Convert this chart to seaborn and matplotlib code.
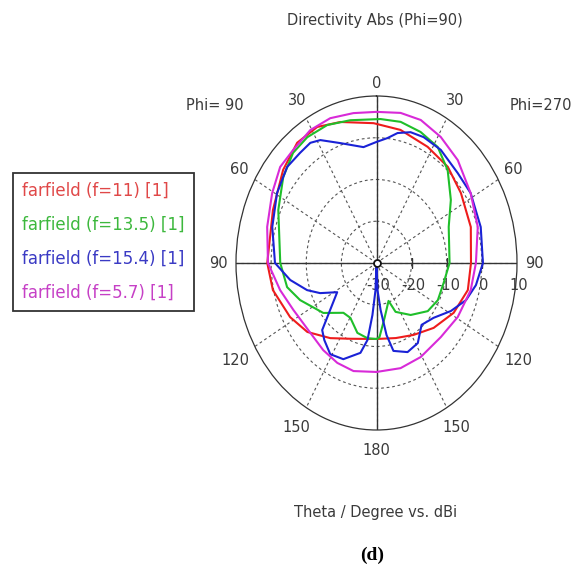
import numpy as np
import pandas as pd
import matplotlib
matplotlib.use('Agg')
import matplotlib.pyplot as plt
import seaborn as sns

sns.set_theme(style='white')
plt.rcParams['font.family'] = ['DejaVu Sans']

# theta in degrees: negative side = Phi=90 cut (left half), positive = Phi=270 cut (right half)
theta_f11 = [-180, -157.8, -143.8, -130, -117.8, -102.4, -90, -66.7, -50, -38.1, -27.4, -16.9, -1.4,
             12.1, 27.6, 41.4, 55.1, 72.2, 90, 104, 118.5, 133.7, 148.5, 163, 180]
dbi_f11 = [-11.8, -10.4, -7.7, -4.3, -2.2, 0.2, 1.1, 2.1, 4.7, 6.6, 6.7, 5.3, 3.5,
           2.6, 1.4, 0.7, -0.7, -1.8, -3.1, -3.2, -5.0, -7.5, -9.8, -11.2, -11.8]

theta_f135 = [-180, -171.9, -162, -150.5, -141.7, -128.3, -112.2, -102.8, -90, -65.6, -52.2, -42, -33.2,
              -23, -12.3, 1.9, 11.5, 21.8, 32.1, 42.3, 54.5, 67.2, 90, 104, 117, 128.3, 142, 155.1,
              159.3, 170.2, 177.3, 180]
dbi_f135 = [-11.8, -11.8, -12.4, -14.9, -14.8, -10.7, -6.5, -3.9, -2.6, 0.7, 3.6, 5.5, 6.0,
            5.9, 5.0, 4.5, 4.5, 3.8, 2.8, 0.1, -4.0, -7.7, -9.2, -10.3, -10.4, -11.4, -14.2, -17.1,
            -20.3, -16.6, -12.2, -11.8]

theta_f154 = [-180, -177.5, -174.7, -172.1, -168, -157.7, -148.9, -141.2, -136.1, -122, -114.2, -108.2,
              -99.4, -90, -73.8, -59.4, -47.9, -39.5, -33.2, -28.5, -19.7, -7.6, 0, 6, 10.9, 17.2, 24,
              34, 47.1, 58, 73.8, 90, 100.6, 109.2, 118.5, 128.9, 139.1, 148.5, 157.5, 167.1, 170.6,
              174.1, 177.5, 180]
dbi_f154 = [-30, -23.5, -17.5, -11.4, -8.0, -5.1, -4.5, -6.3, -7.7, -16.8, -12.4, -9.2,
            -5.1, -1.1, 0.9, 2.9, 4.3, 4.2, 4.4, 3.5, 0.5, -2.0, -1.0, 0.1, 1.7, 2.8, 3.0,
            2.7, 1.6, 1.6, 0.9, 0.3, -1.2, -3.0, -5.9, -9.1, -10.4, -7.5, -6.9, -8.4, -12.5,
            -18.7, -23.5, -30]

theta_f57 = [-180, -165.8, -155, -144, -130.4, -115.4, -103.3, -90, -74.5, -60.6, -50, -41.2, -30.6,
             -20.8, -10.4, 0, 10.8, 20.2, 31.2, 43.2, 58, 73.3, 90, 103.6, 119.2, 134.1, 150.8,
             164.8, 180]
dbi_f57 = [-3.9, -3.3, -3.6, -4.2, -4.8, -3.8, -1.8, 0.9, 2.3, 4.1, 5.8, 6.0, 7.0,
           7.1, 6.5, 6.2, 6.6, 6.5, 5.3, 3.8, 1.6, 0.1, -1.7, -2.4, -3.5, -4.5, -4.2,
           -3.9, -3.9]

labels = ['farfield (f=11) [1]', 'farfield (f=13.5) [1]', 'farfield (f=15.4) [1]', 'farfield (f=5.7) [1]']
line_colors = ['#ee1c1c', '#1fbf2a', '#1a22d6', '#d82ad8']
text_colors = ['#e04848', '#3db83d', '#3a3ac4', '#c640c6']

r_ticks = [-30, -20, -10, 0, 10]
theta_ticks = [0, 30, 60, 90, 120, 150, 180, 210, 240, 270, 300, 330]
theta_ticklabels = ['0', '30', '60', '90', '120', '150', '180', '150', '120', '90', '60', '30']
# how far outside the plot each angle label sits (in dB units)
label_r = [13, 15, 15, 15, 16.5, 15.5, 15, 15.5, 16.5, 15, 15, 15]

txt = '#3a3a3a'
W, H = 573, 588

fig = plt.figure(figsize=(W / 100, H / 100), dpi=100)
fig.patch.set_facecolor('white')
ax = fig.add_axes([236 / W, 1 - 430 / H, 281 / W, 334 / H], projection='polar')

series = [(theta_f11, dbi_f11), (theta_f135, dbi_f135), (theta_f154, dbi_f154), (theta_f57, dbi_f57)]
for (th, db), lab, c in zip(series, labels, line_colors):
    df = pd.DataFrame({'theta': np.deg2rad(th), 'dbi': db})
    sns.lineplot(data=df, x='theta', y='dbi', ax=ax, sort=False, estimator=None,
                 color=c, lw=1.5, label=lab, zorder=4)

ax.set_aspect('auto')
ax.set_theta_zero_location('N')
ax.set_theta_direction(-1)
ax.set_xlim(0, 2 * np.pi)
ax.set_rlim(-30, 10)
ax.set_rticks(r_ticks[1:-1])
ax.set_yticklabels([])
ax.set_thetagrids(theta_ticks, labels=[''] * len(theta_ticks))
ax.set_xlabel('')
ax.set_ylabel('')
ax.grid(True, color='#555555', linestyle=(0, (2.5, 2.5)), linewidth=0.8)
ax.spines['polar'].set_color('#333333')
ax.spines['polar'].set_linewidth(0.9)
ax.set_facecolor('white')

# solid cross through the centre
ax.plot([0, 1], [0.5, 0.5], transform=ax.transAxes, color='#333333', lw=1.0, zorder=3)
ax.plot([0.5, 0.5], [0, 1], transform=ax.transAxes, color='#333333', lw=1.0, zorder=3)
ax.plot(np.deg2rad([90] * 3), r_ticks[1:-1], ls='none', marker='|', ms=7, mew=1.0, color='#333333', zorder=3)
ax.plot([0], [-30], marker='o', ms=5, mfc='white', mec='#111111', mew=1.3, zorder=6)

for r in r_ticks:
    ax.annotate(str(r), xy=(np.pi / 2, r), xytext=(1, -16), textcoords='offset points',
                ha='center', va='center', fontsize=10.5, color=txt, annotation_clip=False)

for t, lab, rl in zip(theta_ticks, theta_ticklabels, label_r):
    ax.text(np.deg2rad(t), rl, lab, ha='center', va='center', fontsize=10.5, color=txt, clip_on=False)

leg = ax.get_legend()
handles, labs = ax.get_legend_handles_labels()
leg.remove()
leg = fig.legend(handles, labs, loc='upper left', bbox_to_anchor=(13 / W, 1 - 173 / H),
                 handlelength=0, handletextpad=0, frameon=True, fancybox=False, fontsize=12,
                 labelspacing=0.95, borderpad=0.55, borderaxespad=0, labelcolor=text_colors)
leg.get_frame().set_edgecolor('black')
leg.get_frame().set_linewidth(1.3)
for h in leg.legend_handles:
    h.set_visible(False)

fig.text(375 / W, 1 - 20 / H, 'Directivity Abs (Phi=90)', ha='center', va='center', fontsize=10.5, color=txt)
fig.text(215 / W, 1 - 106 / H, 'Phi= 90', ha='center', va='center', fontsize=10.5, color=txt)
fig.text(541 / W, 1 - 106 / H, 'Phi=270', ha='center', va='center', fontsize=10.5, color=txt)
fig.text(376 / W, 1 - 512 / H, 'Theta / Degree vs. dBi', ha='center', va='center', fontsize=10.5, color=txt)
fig.text(372 / W, 1 - 555 / H, '(d)', ha='center', va='center', fontsize=14, fontweight='bold',
         family='Liberation Serif', color='black')

fig.savefig('out.png', dpi=100, facecolor='white')
